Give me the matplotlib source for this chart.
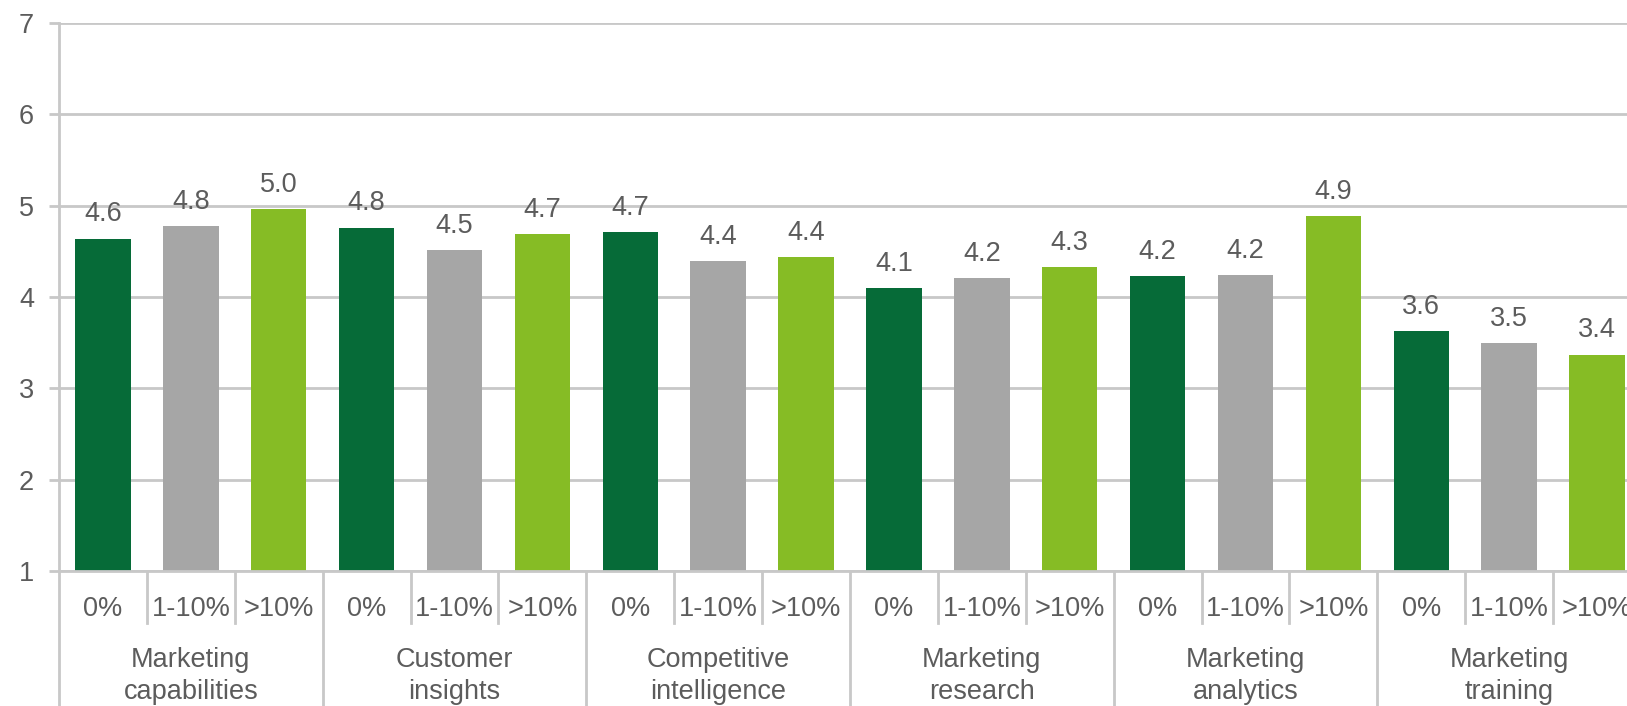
import matplotlib.pyplot as plt
import numpy as np

groups = ['Marketing\ncapabilities', 'Customer\ninsights', 'Competitive\nintelligence',
          'Marketing\nresearch', 'Marketing\nanalytics', 'Marketing\ntraining']
subcats = ['0%', '1-10%', '>10%']
scores = [
    [4.64, 4.78, 4.96],
    [4.76, 4.51, 4.69],
    [4.71, 4.39, 4.44],
    [4.10, 4.21, 4.33],
    [4.23, 4.24, 4.89],
    [3.63, 3.50, 3.37],
]
colors = ['#066b38', '#a6a6a6', '#86bc25']

txt = '#5c5c5c'
grid = '#c8c8c8'
plt.rcParams['font.family'] = ['Liberation Sans', 'DejaVu Sans']

fig = plt.figure(figsize=(16.27, 7.06), dpi=100)
ax = fig.add_axes([59 / 1627, 135 / 706, 1582 / 1627, 548 / 706])

for g, vals in enumerate(scores):
    for s, v in enumerate(vals):
        x = g * 3 + s + 0.5
        ax.bar(x, v - 1, bottom=1, width=0.63, color=colors[s], zorder=3)
        ax.annotate(f'{v:.1f}', (x, v), xytext=(0, 8), textcoords='offset points',
                    ha='center', va='bottom', fontsize=19.5, color=txt)

ax.set_xlim(0, 18)
ax.set_ylim(1, 7)
ax.set_yticks(range(1, 8))
ax.yaxis.grid(True, color=grid, linewidth=2, zorder=0)
ax.tick_params(axis='y', length=7, width=2, color=grid, labelsize=19.5, labelcolor=txt, pad=11)
ax.set_xticks([])
for side in ['top', 'right', 'bottom']:
    ax.spines[side].set_visible(False)
ax.spines['left'].set_color(grid)
ax.spines['left'].set_linewidth(2)

# category axis: subcategory labels, separators and group labels
tr = ax.get_xaxis_transform()
ax.plot([0, 18], [0, 0], transform=tr, color=grid, lw=2, clip_on=False, zorder=4)
for g, name in enumerate(groups):
    for s, sub in enumerate(subcats):
        x = g * 3 + s
        ax.text(x + 0.5, -0.07, sub, transform=tr, ha='center', va='center',
                fontsize=19.5, color=txt)
        if s > 0:
            ax.plot([x, x], [0, -0.095], transform=tr, color=grid, lw=2, clip_on=False)
    ax.plot([g * 3, g * 3], [0, -0.3], transform=tr, color=grid, lw=2, clip_on=False)
    ax.text(g * 3 + 1.5, -0.138, name, transform=tr, ha='center', va='top',
            fontsize=19.5, color=txt, linespacing=1.3)

fig.savefig('out.png', dpi=100)
